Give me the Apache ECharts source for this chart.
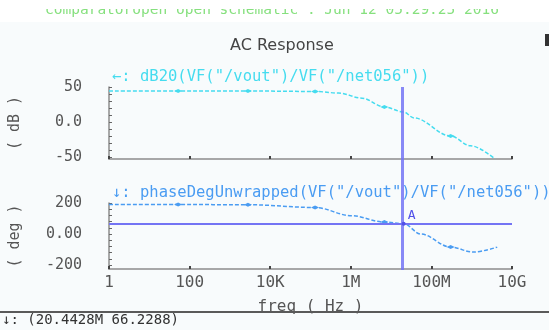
<!DOCTYPE html>
<html>
<head>
<meta charset="utf-8">
<title>AC Response</title>
<script src="https://cdn.jsdelivr.net/npm/echarts@6/dist/echarts.min.js"></script>
<style>
html, body { margin: 0; padding: 0; background: #fff; }
#Echarts { width: 549px; height: 330px; }
</style>
</head>
<body>
<div id="Echarts"></div>
<script>
// AC response (Cadence waveform window)

// x axis: frequency, log decades
var freqTicks = [1, 100, 1e4, 1e6, 1e8, 1e10];
var freqLabels = ['1', '100', '10K', '1M', '100M', '10G'];

// points where the little arrow markers sit on both traces
var markerFreqs = [52, 2800, 130000, 6.8e6, 3e8];

// gain trace
var dbFreqs  = [1, 52, 2800, 130000, 500000, 1.9e6, 6.8e6, 20.4428e6, 3.7e7, 3e8, 9.3e8, 3.8e9];
var dbValues = [44.3, 44.3, 44.3, 43.6, 41.4, 34, 21.4, 14.3, 5.7, -20, -34, -53];

// phase trace
var phaseFreqs  = [1, 52, 2800, 130000, 1.05e6, 6.8e6, 20.4428e6, 5.5e7, 3e8, 1.1e9, 4.3e9];
var phaseValues = [190, 190, 189, 171, 118, 77, 66.2288, 0, -84, -116, -84];

// y axis labels / ticks
var dbLabelValues = [-50, 0, 50];
var dbLabelText = ['-50', '0.0', '50'];
var dbTicks = [-50, -40, -30, -20, -10, 0, 10, 20, 30, 40, 50];
var phaseLabelValues = [-200, 0, 200];
var phaseLabelText = ['-200', '0.00', '200'];
var phaseTicks = [-200, -160, -120, -80, -40, 0, 40, 80, 120, 160, 200];

// cursor A
var cursorFreq = 20.4428e6;
var cursorPhase = 66.2288;

var mono = 'DejaVu Sans Mono';
var cyan = '#45dcef';
var blue = '#4a9cf2';
var cursorColor = '#7474f4';
var axisColor = '#8c8c8c';

function pairs(xs, ys) {
    return xs.map(function (x, i) { return [x, ys[i]]; });
}

function freqLabel(v) {
    var lg = Math.round(Math.log(v) / Math.LN10);
    for (var i = 0; i < freqTicks.length; i++) {
        if (Math.round(Math.log(freqTicks[i]) / Math.LN10) === lg) return freqLabels[i];
    }
    return '';
}

function markerSize(val) {
    return markerFreqs.indexOf(val[0]) >= 0 ? [8, 4] : 0;
}

function freqAxis(gi, withLabels) {
    return {
        type: 'log', logBase: 10, gridIndex: gi, min: 1, max: 1e10,
        axisLine: { show: true, onZero: false, lineStyle: { color: axisColor, width: 1.5 } },
        axisTick: { show: true, inside: true, length: 3, customValues: freqTicks,
                    lineStyle: { color: '#444', width: 2 } },
        axisLabel: { show: withLabels, customValues: freqTicks, formatter: freqLabel,
                     fontFamily: mono, fontSize: 16, color: '#555', margin: 6 },
        splitLine: { show: false },
        name: withLabels ? 'freq ( Hz )' : '',
        nameLocation: 'middle', nameGap: 30,
        nameTextStyle: { fontFamily: mono, fontSize: 16, color: '#555' }
    };
}

function valueAxis(gi, min, max, ticks, labelValues, labelText, name) {
    return {
        type: 'value', gridIndex: gi, min: min, max: max,
        axisLine: { show: true, lineStyle: { color: axisColor, width: 1.5 } },
        axisTick: { show: true, inside: true, length: 3, customValues: ticks,
                    lineStyle: { color: '#666' } },
        axisLabel: { customValues: labelValues,
                     formatter: function (v) { return labelText[labelValues.indexOf(v)]; },
                     fontFamily: mono, fontSize: 15, color: '#555', margin: 27,
                     padding: [0, 0, 6, 0] },
        splitLine: { show: false },
        name: name, nameLocation: 'middle', nameRotate: 90, nameGap: 86,
        nameTextStyle: { fontFamily: mono, fontSize: 15, color: '#555' }
    };
}

var myChart = echarts.init(document.getElementById('Echarts'));

var option = {
    backgroundColor: '#f8fbfc',
    animation: false,
    title: {
        text: 'AC Response', left: 225, top: 33,
        textStyle: { fontFamily: 'DejaVu Sans', fontSize: 16, fontWeight: 'normal', color: '#444' }
    },
    grid: [
        { left: 105, right: 37, top: 87, height: 72 },
        { left: 105, right: 37, top: 203, height: 66 },
        { left: 105, right: 37, top: 87, height: 183 }
    ],
    xAxis: [
        freqAxis(0, false),
        freqAxis(1, true),
        { type: 'log', logBase: 10, gridIndex: 2, min: 1, max: 1e10, show: false }
    ],
    yAxis: [
        valueAxis(0, -53, 50, dbTicks, dbLabelValues, dbLabelText, '( dB )'),
        valueAxis(1, -225, 200, phaseTicks, phaseLabelValues, phaseLabelText, '( deg )'),
        { type: 'value', gridIndex: 2, min: 0, max: 1, show: false }
    ],
    series: [
        {
            name: 'dB20', type: 'line', xAxisIndex: 0, yAxisIndex: 0,
            data: pairs(dbFreqs, dbValues),
            smooth: 0.35, smoothMonotone: 'x',
            showAllSymbol: true, symbol: 'diamond', symbolSize: markerSize,
            itemStyle: { color: cyan },
            lineStyle: { color: cyan, width: 1.5, type: [4, 2] },
            silent: true
        },
        {
            name: 'phase', type: 'line', xAxisIndex: 1, yAxisIndex: 1,
            data: pairs(phaseFreqs, phaseValues),
            smooth: 0.35, smoothMonotone: 'x',
            showAllSymbol: true, symbol: 'diamond', symbolSize: markerSize,
            itemStyle: { color: blue },
            lineStyle: { color: blue, width: 1.5, type: [4, 2] },
            silent: true,
            markLine: {
                silent: true, symbol: ['none', 'none'], label: { show: false },
                lineStyle: { color: cursorColor, width: 2, type: 'solid' },
                data: [{ yAxis: cursorPhase }]
            },
            markPoint: {
                silent: true, symbol: 'circle', symbolSize: 4,
                itemStyle: { color: '#5050e8' },
                label: { show: true, formatter: 'A', position: 'inside', offset: [8, -8],
                         fontFamily: mono, fontSize: 13, color: '#5050e8' },
                data: [{ coord: [cursorFreq, cursorPhase] }]
            }
        },
        {
            name: 'cursor', type: 'line', xAxisIndex: 2, yAxisIndex: 2,
            data: [],
            markLine: {
                silent: true, symbol: ['none', 'none'], label: { show: false },
                lineStyle: { color: cursorColor, width: 3, type: 'solid', opacity: 0.85 },
                data: [{ xAxis: cursorFreq }]
            }
        }
    ],
    graphic: [
        { type: 'rect', shape: { x: 0, y: 0, width: 549, height: 22 }, style: { fill: '#ffffff' }, z: 0 },
        { type: 'text', x: 45, y: 3, z: 1,
          style: { text: 'comparatoropen open schematic : Jun 12 05:29:25 2016',
                   font: '14.5px "DejaVu Sans Mono"', fill: '#86e07e' } },
        { type: 'rect', shape: { x: 0, y: 0, width: 549, height: 9 }, style: { fill: '#ffffff' }, z: 100 },
        { type: 'rect', shape: { x: 545, y: 34, width: 4, height: 12 }, style: { fill: '#333' }, z: 2 },
        { type: 'text', x: 112, y: 69, z: 3,
          style: { text: '\u2190: dB20(VF("/vout")/VF("/net056"))',
                   font: '15.5px "DejaVu Sans Mono"', fill: cyan } },
        { type: 'text', x: 112, y: 185, z: 3,
          style: { text: '\u2193: phaseDegUnwrapped(VF("/vout")/VF("/net056"))',
                   font: '15.5px "DejaVu Sans Mono"', fill: blue } },
        { type: 'rect', shape: { x: 0, y: 311, width: 549, height: 2 }, style: { fill: '#5a5a5a' }, z: 3 },
        { type: 'text', x: 2, y: 313, z: 3,
          style: { text: '\u2193: (20.4428M 66.2288)',
                   font: '14px "DejaVu Sans Mono"', fill: '#333' } }
    ]
};

myChart.setOption(option);
</script>
</body>
</html>
